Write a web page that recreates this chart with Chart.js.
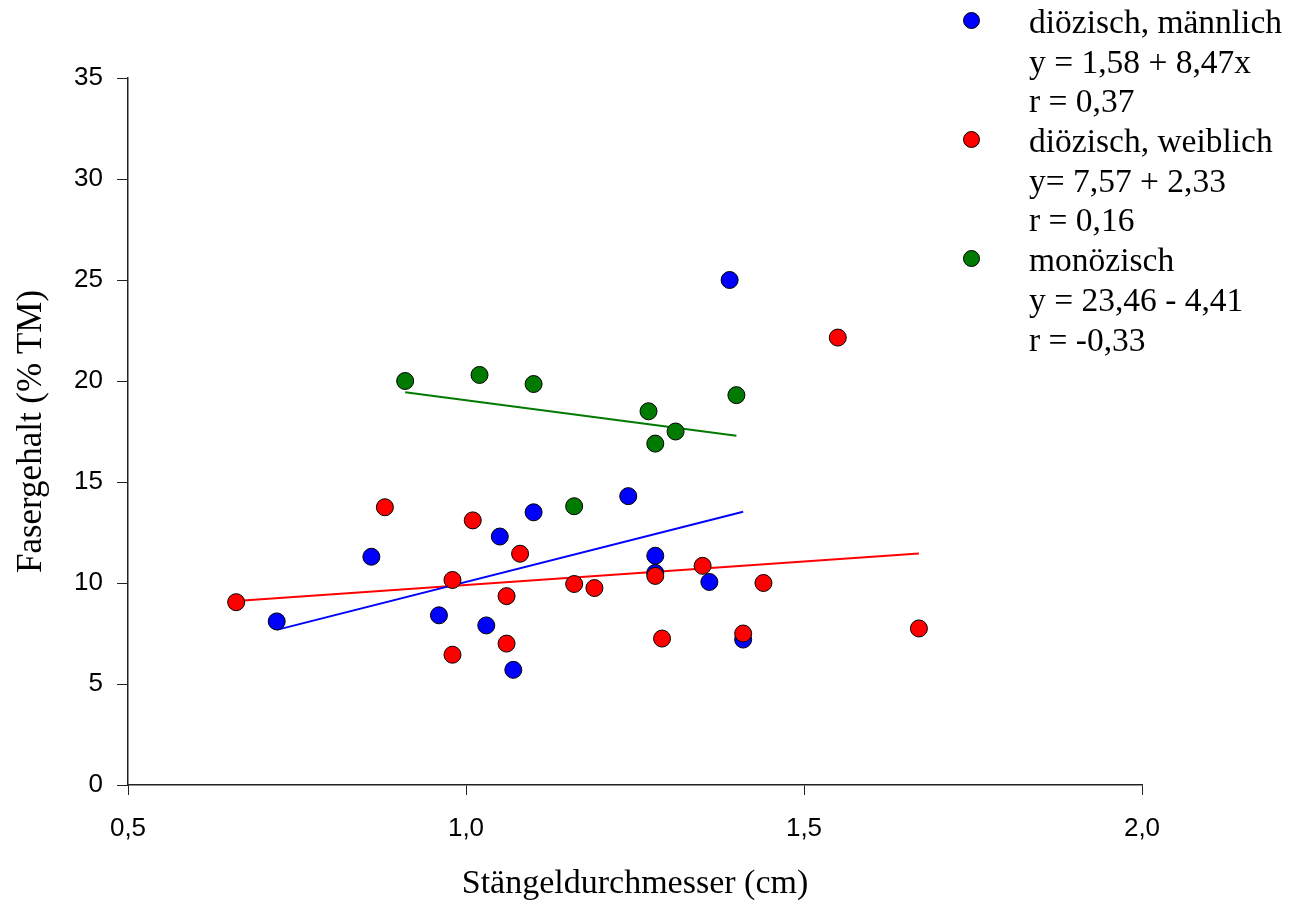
<!DOCTYPE html>
<html>
<head>
<meta charset="utf-8">
<script src="https://cdn.jsdelivr.net/npm/chart.js@4/dist/chart.umd.min.js"></script>
<style>
  html, body { margin: 0; padding: 0; background: #fff; }
  #wrap { position: relative; width: 1291px; height: 905px; }
  #legend { position: absolute; left: 955px; top: 2px; font-family: "Liberation Serif", "Times New Roman", serif; font-size: 33.5px; line-height: 39.7px; color: #000; }
  .row { position: relative; padding-left: 74px; white-space: nowrap; height: 39.7px; }
  .dot { position: absolute; left: 8px; top: 10px; width: 15px; height: 15px; border-radius: 50%; border: 1px solid #000; }
</style>
</head>
<body>
<div id="wrap">
  <canvas id="c" width="1291" height="905"></canvas>
  <div id="legend"></div>
</div>
<script>
// ---- data ----
const seriesNames = ["diözisch, männlich", "diözisch, weiblich", "monözisch"];
const seriesColors = ["#0000ff", "#ff0000", "#007a00"];
const equations = ["y = 1,58 + 8,47x", "y= 7,57 + 2,33", "y = 23,46 - 4,41"];
const rValues = ["r = 0,37", "r = 0,16", "r = -0,33"];
const intercepts = [1.58, 7.57, 23.46];
const slopes = [8.47, 2.33, -4.41];

const maleX = [0.72, 0.86, 0.96, 1.03, 1.05, 1.07, 1.10, 1.24, 1.28, 1.28, 1.36, 1.39, 1.41];
const maleY = [8.1, 11.3, 8.4, 7.9, 12.3, 5.7, 13.5, 14.3, 11.35, 10.5, 10.05, 25.0, 7.2];

const femaleX = [0.66, 0.88, 0.98, 0.98, 1.01, 1.06, 1.06, 1.08, 1.16, 1.19, 1.28, 1.29, 1.35, 1.41, 1.44, 1.55, 1.67];
const femaleY = [9.05, 13.75, 10.15, 6.45, 13.1, 9.35, 7.0, 11.45, 9.95, 9.75, 10.35, 7.25, 10.85, 7.5, 10.0, 22.15, 7.75];

const monoX = [0.91, 1.02, 1.10, 1.16, 1.27, 1.28, 1.31, 1.40];
const monoY = [20.0, 20.3, 19.85, 13.8, 18.5, 16.9, 17.5, 19.3];

const xTicks = [0.5, 1.0, 1.5, 2.0];
const yTicks = [0, 5, 10, 15, 20, 25, 30, 35];

const xTitle = "Stängeldurchmesser (cm)";
const yTitle = "Fasergehalt (% TM)";

// ---- build ----
const groupsX = [maleX, femaleX, monoX];
const groupsY = [maleY, femaleY, monoY];

function pts(xs, ys) { return xs.map((x, i) => ({ x: x, y: ys[i] })); }
function fitLine(k) {
  const xs = groupsX[k];
  const lo = Math.min(...xs), hi = Math.max(...xs);
  return [lo, hi].map(x => ({ x: x, y: intercepts[k] + slopes[k] * x }));
}

const datasets = [];
for (let k = 0; k < 3; k++) {
  datasets.push({
    type: 'line', label: seriesNames[k] + ' fit', data: fitLine(k),
    borderColor: seriesColors[k], borderWidth: 2, pointRadius: 0, fill: false,
    order: 10
  });
}
const pointOrder = [3, 2, 1];
for (let k = 0; k < 3; k++) {
  datasets.push({
    type: 'scatter', label: seriesNames[k], data: pts(groupsX[k], groupsY[k]),
    backgroundColor: seriesColors[k], borderColor: '#000', borderWidth: 1,
    pointRadius: 8.5, order: pointOrder[k]
  });
}

const fmt = v => v.toFixed(1).replace('.', ',');

new Chart(document.getElementById('c'), {
  type: 'scatter',
  data: { datasets: datasets },
  options: {
    responsive: false,
    animation: false,
    layout: { padding: { left: 0, right: 149, top: 78, bottom: 0 } },
    plugins: { legend: { display: false }, tooltip: { enabled: false } },
    scales: {
      x: {
        type: 'linear', min: 0.5, max: 2.0,
        afterBuildTicks: s => { s.ticks = xTicks.map(v => ({ value: v })); },
        afterFit: s => { s.height = 120; },
        border: { display: true, color: '#222', width: 1.5 },
        grid: { display: true, drawOnChartArea: false, drawTicks: true, tickLength: 10, color: '#222', lineWidth: 1 },
        ticks: { color: '#000', padding: 18, font: { family: 'Liberation Sans', size: 26 }, callback: v => fmt(v), maxRotation: 0 },
        title: { display: true, text: xTitle, color: '#000', font: { family: 'Liberation Serif', size: 34 }, padding: { top: 10, bottom: 1 } }
      },
      y: {
        type: 'linear', min: 0, max: 35,
        afterBuildTicks: s => { s.ticks = yTicks.map(v => ({ value: v })); },
        afterFit: s => { s.width = 128; },
        border: { display: true, color: '#222', width: 1.5 },
        grid: { display: true, drawOnChartArea: false, drawTicks: true, tickLength: 11, color: '#222', lineWidth: 1 },
        ticks: { color: '#000', padding: 14, font: { family: 'Liberation Sans', size: 26 }, callback: v => String(v) },
        title: { display: true, text: yTitle, color: '#000', font: { family: 'Liberation Serif', size: 35 }, padding: { top: 11, bottom: 0 } }
      }
    }
  }
});

// legend (HTML text)
const leg = document.getElementById('legend');
for (let k = 0; k < 3; k++) {
  const lines = [seriesNames[k], equations[k], rValues[k]];
  lines.forEach((t, i) => {
    const d = document.createElement('div');
    d.className = 'row';
    d.textContent = t;
    if (i === 0) {
      const dot = document.createElement('span');
      dot.className = 'dot';
      dot.style.background = seriesColors[k];
      d.appendChild(dot);
    }
    leg.appendChild(d);
  });
}
</script>
</body>
</html>
